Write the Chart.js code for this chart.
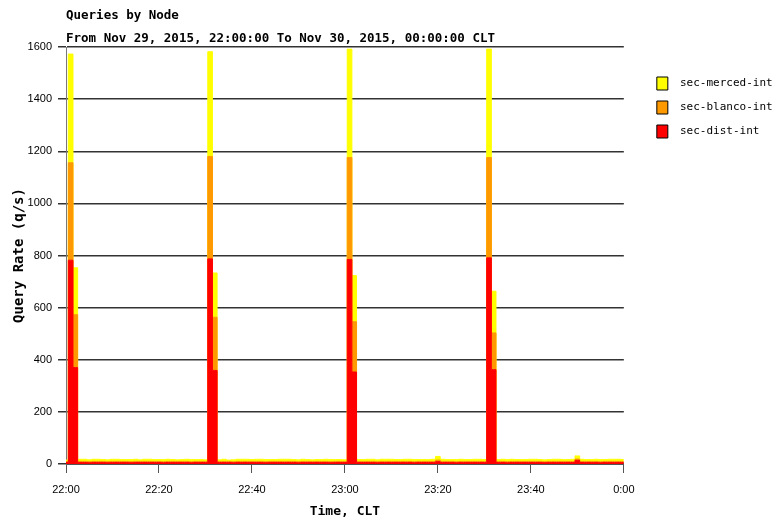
<!DOCTYPE html>
<html>
<head>
<meta charset="utf-8">
<script src="https://cdn.jsdelivr.net/npm/chart.js@4/dist/chart.umd.min.js"></script>
<style>
  html, body { margin: 0; padding: 0; background: #fff; }
  canvas { display: block; }
</style>
</head>
<body>
<canvas id="chart" width="773" height="519"></canvas>
<script>
// one sample per minute, counted from 22:00
const minutes = Array.from({ length: 121 }, (_, i) => i);
const tickLabels = ['22:00', '22:20', '22:40', '23:00', '23:20', '23:40', '0:00'];

const seriesNames = ['sec-dist-int', 'sec-blanco-int', 'sec-merced-int'];

const distInt = [
    6, 782, 370, 6, 6, 5, 6, 6, 6, 5,
    6, 6, 6, 6, 5, 6, 6, 6, 6, 6,
    6, 5, 6, 6, 6, 6, 6, 5, 6, 6,
    6, 787, 359, 6, 6, 6, 5, 6, 6, 6,
    6, 6, 6, 5, 6, 6, 6, 6, 6, 6,
    5, 6, 6, 6, 6, 6, 6, 5, 6, 6,
    6, 785, 353, 6, 6, 6, 6, 5, 6, 6,
    6, 6, 6, 6, 6, 5, 6, 6, 6, 6,
    9, 6, 6, 6, 5, 6, 6, 6, 6, 6,
    6, 791, 362, 6, 6, 5, 6, 6, 6, 6,
    6, 6, 6, 5, 6, 6, 6, 6, 6, 6,
    14, 6, 6, 6, 6, 5, 6, 6, 6, 6,
    6
];

const blancoInt = [
    4, 374, 203, 4, 4, 4, 4, 4, 4, 4,
    4, 4, 4, 4, 4, 4, 4, 4, 4, 4,
    4, 4, 4, 4, 4, 4, 4, 4, 4, 4,
    4, 393, 204, 4, 4, 4, 4, 4, 4, 4,
    4, 4, 4, 4, 4, 4, 4, 4, 4, 4,
    4, 4, 4, 4, 4, 4, 4, 4, 4, 4,
    4, 391, 193, 4, 4, 4, 4, 4, 4, 4,
    4, 4, 4, 4, 4, 4, 4, 4, 4, 4,
    6, 4, 4, 4, 4, 4, 4, 4, 4, 4,
    4, 385, 141, 4, 4, 4, 4, 4, 4, 4,
    4, 4, 4, 4, 4, 4, 4, 4, 4, 4,
    5, 4, 4, 4, 4, 4, 4, 4, 4, 4,
    4
];

const mercedInt = [
    5, 417, 180, 8, 8, 7, 8, 8, 7, 7,
    8, 8, 7, 7, 8, 8, 6, 8, 8, 7,
    7, 8, 8, 7, 6, 7, 8, 8, 7, 7,
    6, 402, 170, 6, 8, 5, 7, 8, 8, 8,
    7, 8, 8, 8, 7, 7, 8, 8, 8, 7,
    7, 8, 7, 6, 7, 7, 8, 8, 7, 7,
    6, 416, 177, 7, 7, 8, 8, 7, 8, 8,
    8, 7, 7, 8, 8, 8, 7, 7, 7, 8,
    14, 8, 7, 7, 8, 8, 7, 7, 8, 8,
    7, 416, 160, 7, 8, 8, 8, 7, 7, 7,
    8, 8, 7, 7, 7, 8, 8, 7, 7, 8,
    12, 8, 7, 7, 8, 8, 7, 8, 8, 8,
    7
];

const MONO = 'DejaVu Sans Mono';
const SANS = 'Liberation Sans';

function toPoints(values) {
    return values.map((v, i) => ({ x: minutes[i], y: v }));
}

function areaDataset(label, values, color, fill) {
    return {
        label: label,
        data: toPoints(values),
        backgroundColor: color,
        borderColor: color,
        borderWidth: 1,
        pointRadius: 0,
        stepped: 'middle',
        fill: fill,
    };
}

const chart = new Chart(document.getElementById('chart'), {
    type: 'line',
    data: {
        datasets: [
            areaDataset(seriesNames[0], distInt, '#ff0000', 'origin'),
            areaDataset(seriesNames[1], blancoInt, '#ff9900', '-1'),
            areaDataset(seriesNames[2], mercedInt, '#ffff00', '-1'),
        ],
    },
    options: {
        responsive: false,
        animation: false,
        layout: {
            padding: { top: 0, right: -2, bottom: 0, left: 0 },
        },
        plugins: {
            title: {
                display: true,
                text: ['Queries by Node', 'From Nov 29, 2015, 22:00:00 To Nov 30, 2015, 00:00:00 CLT'],
                align: 'start',
                fullSize: false,
                color: '#000',
                font: { family: MONO, weight: 'bold', size: 12.5, lineHeight: 1.84 },
                padding: { top: 4, bottom: -3 },
            },
            legend: {
                position: 'right',
                align: 'start',
                reverse: true,
                title: {
                    display: true,
                    text: ' ',
                    font: { size: 10 },
                    padding: { top: 54, bottom: 0 },
                },
                labels: {
                    boxWidth: 11,
                    boxHeight: 13,
                    padding: 11,
                    color: '#000',
                    font: { family: MONO, size: 11 },
                    generateLabels: (c) => Chart.defaults.plugins.legend.labels.generateLabels(c).map((item) => {
                        item.text = ' ' + item.text;
                        item.strokeStyle = '#000';
                        item.lineWidth = 1;
                        return item;
                    }),
                },
            },
            tooltip: { enabled: false },
        },
        scales: {
            x: {
                type: 'linear',
                min: 0,
                max: 120,
                afterFit: (scale) => { scale.height = 55; },
                ticks: {
                    stepSize: 20,
                    autoSkip: false,
                    maxRotation: 0,
                    padding: 10,
                    color: '#000',
                    font: { family: SANS, size: 11 },
                    callback: (value) => tickLabels[value / 20],
                },
                grid: {
                    drawOnChartArea: false,
                    drawTicks: true,
                    tickLength: 9,
                    color: '#555',
                },
                border: { display: true, color: '#555' },
                title: {
                    display: true,
                    text: 'Time, CLT',
                    color: '#000',
                    font: { family: MONO, weight: 'bold', size: 13 },
                    padding: 0,
                },
            },
            y: {
                stacked: true,
                min: 0,
                max: 1600,
                afterFit: (scale) => { scale.width = 66; },
                ticks: {
                    stepSize: 200,
                    padding: 6,
                    color: '#000',
                    font: { family: SANS, size: 11 },
                    callback: (value) => String(value),
                },
                grid: {
                    color: '#333',
                    lineWidth: 1.5,
                    tickLength: 8,
                },
                border: { display: true, color: '#777' },
                title: {
                    display: true,
                    text: 'Query Rate (q/s)',
                    color: '#000',
                    font: { family: MONO, weight: 'bold', size: 14 },
                    padding: { top: 11, bottom: 0 },
                },
            },
            // empty right-hand axis, only keeps a gap between the plot and the legend
            gap: {
                type: 'linear',
                position: 'right',
                afterFit: (scale) => { scale.width = 22; },
                ticks: { display: false },
                grid: { display: false },
                border: { display: false },
            },
        },
    },
});
</script>
</body>
</html>
